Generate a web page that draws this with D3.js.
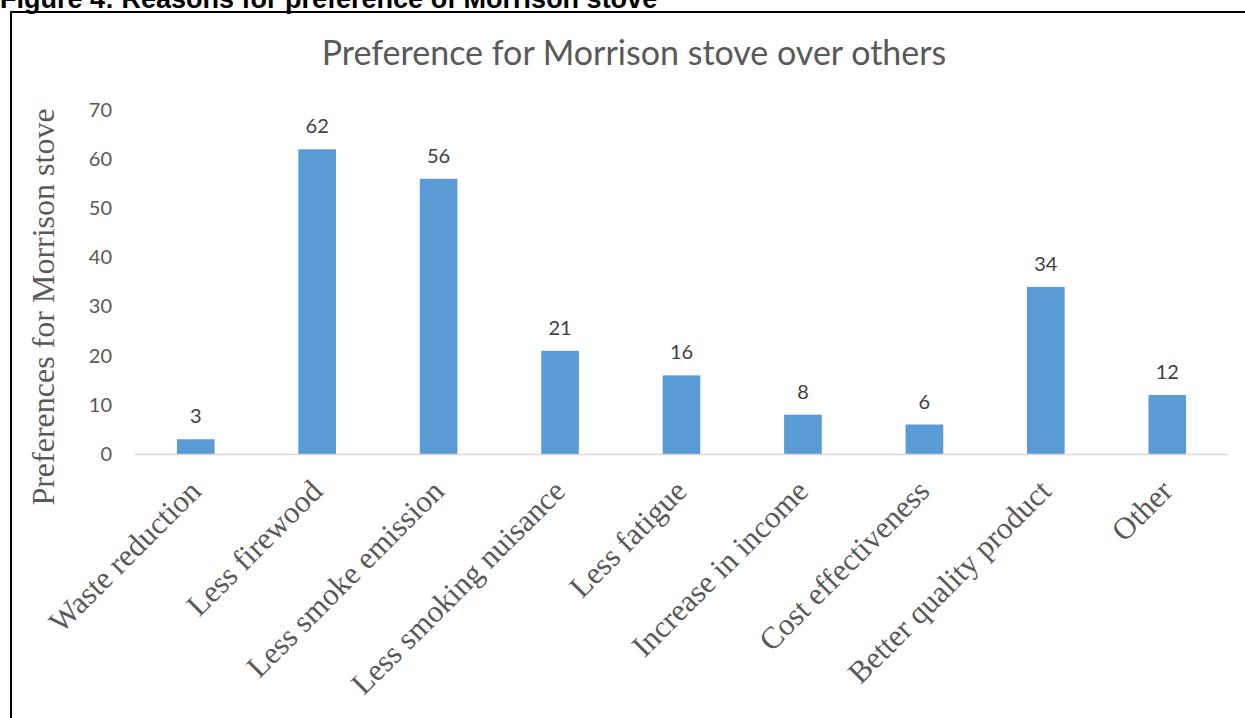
<!DOCTYPE html>
<html>
  <head>
    <meta charset="utf-8">
    <title>Preference for Morrison stove</title>
    <script src="https://d3js.org/d3.v7.min.js"></script>
    <style>
      body { margin: 0; background: #fff; }
      #chart { display: block; }
      .tick text { font-family: Lato, sans-serif; font-size: 20px; fill: #595959; }
      .xlabel { font-family: "Liberation Serif", serif; font-size: 31px; fill: #595959; }
      .value { font-family: Lato, sans-serif; font-size: 20px; fill: #404040; }
    </style>
  </head>
  <body>
    <svg id="chart" width="1245" height="718"></svg>
    <script>
      // chart data
      const categories = ["Waste reduction", "Less firewood", "Less smoke emission", "Less smoking nuisance",
        "Less fatigue", "Increase in income", "Cost effectiveness", "Better quality product", "Other"];
      const counts = [3, 62, 56, 21, 16, 8, 6, 34, 12];
      const yTicks = [0, 10, 20, 30, 40, 50, 60, 70];

      const svg = d3.select("#chart");
      const margin = { left: 135, right: 17, top: 110, bottom: 264 };
      const width = 1245, height = 718;

      const x = d3.scaleBand()
        .domain(categories)
        .range([margin.left, width - margin.right])
        .paddingInner(0.69)
        .paddingOuter(0.345);
      const y = d3.scaleLinear()
        .domain([0, 70])
        .range([height - margin.bottom, margin.top]);

      // figure caption (cut at the top) and frame
      svg.append("text")
        .attr("x", 0)
        .attr("y", 8)
        .style("font-family", "Liberation Sans, Arial, sans-serif")
        .style("font-weight", "bold")
        .style("font-size", "27px")
        .text("Figure 4: Reasons for preference of Morrison stove");
      svg.append("path")
        .attr("d", "M11," + height + "V12H" + width)
        .attr("fill", "none")
        .attr("stroke", "#000")
        .attr("stroke-width", 2);

      // title
      svg.append("text")
        .attr("x", 634)
        .attr("y", 65)
        .attr("text-anchor", "middle")
        .style("font-family", "Lato, sans-serif")
        .style("font-size", "34px")
        .style("fill", "#595959")
        .text("Preference for Morrison stove over others");

      // y axis (labels only)
      const yAxis = d3.axisLeft(y).tickValues(yTicks).tickSize(0).tickPadding(0);
      svg.append("g")
        .attr("transform", "translate(112,0)")
        .call(yAxis)
        .call(function(g) { g.select(".domain").remove(); });

      // y axis title
      svg.append("text")
        .attr("transform", "translate(54,307) rotate(-90)")
        .attr("text-anchor", "middle")
        .style("font-family", "Liberation Serif, serif")
        .style("font-size", "32px")
        .style("fill", "#595959")
        .text("Preferences for Morrison stove");

      // bars
      svg.append("g")
        .selectAll("rect")
        .data(categories)
        .join("rect")
          .attr("x", function(d) { return x(d); })
          .attr("y", function(d, i) { return y(counts[i]); })
          .attr("width", x.bandwidth())
          .attr("height", function(d, i) { return y(0) - y(counts[i]); })
          .attr("fill", "#5b9bd5");

      // baseline
      svg.append("line")
        .attr("x1", margin.left)
        .attr("x2", width - margin.right)
        .attr("y1", y(0) + 0.5)
        .attr("y2", y(0) + 0.5)
        .attr("stroke", "#d9d9d9")
        .attr("stroke-width", 1.5);

      // value labels
      svg.append("g")
        .selectAll("text")
        .data(categories)
        .join("text")
          .classed("value", true)
          .attr("x", function(d) { return x(d) + x.bandwidth() / 2; })
          .attr("y", function(d, i) { return y(counts[i]) - 16; })
          .attr("text-anchor", "middle")
          .text(function(d, i) { return counts[i]; });

      // category labels
      svg.append("g")
        .selectAll("text")
        .data(categories)
        .join("text")
          .classed("xlabel", true)
          .attr("text-anchor", "end")
          .attr("transform", function(d) {
            return "translate(" + (x(d) + x.bandwidth() / 2 + 7) + "," + (y(0) + 39) + ") rotate(-45)";
          })
          .text(function(d) { return d; });
    </script>
  </body>
</html>
